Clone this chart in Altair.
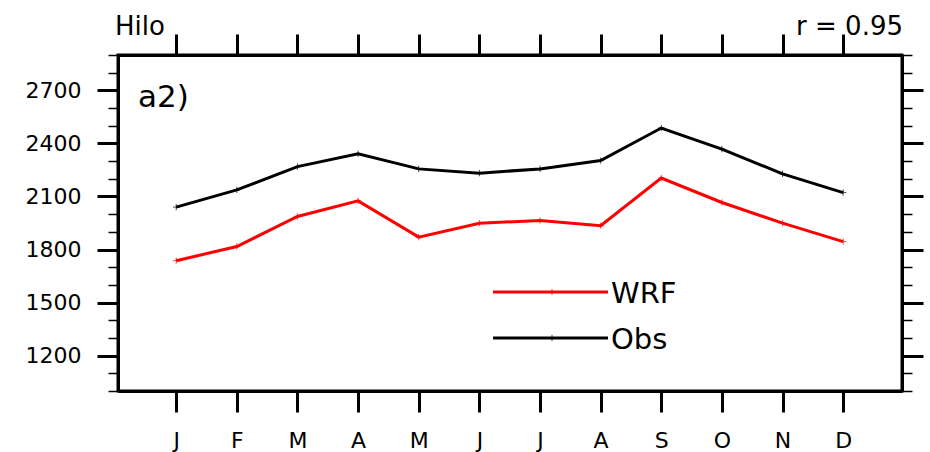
import altair as alt
import pandas as pd

# ---- data ----
months = ["J", "F", "M", "A", "M", "J", "J", "A", "S", "O", "N", "D"]
month_num = list(range(1, 13))
obs = [2040, 2137, 2269, 2341, 2256, 2232, 2256, 2303, 2487, 2368, 2228, 2122]
wrf = [1737, 1817, 1987, 2075, 1870, 1949, 1964, 1935, 2204, 2066, 1949, 1845]
series = ["WRF", "Obs"]
colors = ["#ff0000", "#000000"]
y_major = [1200, 1500, 1800, 2100, 2400, 2700]
y_ticks = list(range(1000, 2901, 100))
station = "Hilo"
panel = "a2)"
corr = "r = 0.95"

FONT = "DejaVu Sans"
W, H = 784, 336
x_scale = alt.Scale(domain=[0.04, 12.97], nice=False, zero=False)
y_scale = alt.Scale(domain=[1000, 2900], nice=False, zero=False)

df = pd.DataFrame({
    "m": month_num * 2,
    "v": wrf + obs,
    "s": [series[0]] * 12 + [series[1]] * 12,
})

month_expr = "[" + ",".join("'" + m + "'" for m in months) + "][datum.value - 1]"
major_test = "indexof([" + ",".join(str(v) for v in y_major) + "], datum.value) >= 0"

def y_axis(orient, labels):
    return alt.Axis(
        orient=orient, values=y_ticks, title=None, grid=False,
        labels=labels, format="d",
        labelExpr="(" + major_test + ") ? datum.label : ''",
        labelFont=FONT, labelFontSize=22, labelColor="black",
        labelPadding=16, labelOverlap=False, labelFlush=False,
        tickColor="black",
        tickSize={"condition": {"test": major_test, "value": 21}, "value": 10},
        tickWidth={"condition": {"test": major_test, "value": 3}, "value": 1.5},
        domainColor="black", domainWidth=3,
    )

def x_axis(orient, labels):
    return alt.Axis(
        orient=orient, values=month_num, title=None, grid=False,
        labels=labels, labelExpr=month_expr,
        labelFont=FONT, labelFontSize=22, labelColor="black",
        labelPadding=18, labelOverlap=False, labelFlush=False,
        tickColor="black", tickSize=21, tickWidth=3,
        domainColor="black", domainWidth=3,
    )

base = alt.Chart(df)

obs_line = base.transform_filter(alt.datum.s == series[1]).mark_line(
    color=colors[1], strokeWidth=3
).encode(
    x=alt.X("m:Q", scale=x_scale, axis=x_axis("bottom", True)),
    y=alt.Y("v:Q", scale=y_scale, axis=y_axis("left", True)),
)

wrf_line = base.transform_filter(alt.datum.s == series[0]).mark_line(
    color=colors[0], strokeWidth=3
).encode(
    x=alt.X("m:Q", scale=x_scale, axis=x_axis("top", False)),
    y=alt.Y("v:Q", scale=y_scale, axis=y_axis("right", False)),
)

cross = "M0,-1L0,1M-1,0L1,0"
pts = base.mark_point(shape=cross, size=40, filled=False, strokeWidth=1).encode(
    x=alt.X("m:Q", scale=x_scale, axis=None),
    y=alt.Y("v:Q", scale=y_scale, axis=None),
    color=alt.Color("s:N", scale=alt.Scale(domain=series, range=colors), legend=None),
)

def txt(t, x, y, size, align="left"):
    return alt.Chart(pd.DataFrame({"t": [t]})).mark_text(
        font=FONT, fontSize=size, align=align, baseline="alphabetic", color="black"
    ).encode(x=alt.value(x), y=alt.value(y), text="t:N")

# legend drawn by hand
leg = []
for i, (name, col) in enumerate(zip(series, colors)):
    yy = 237 + 46 * i
    leg.append(alt.Chart(pd.DataFrame({"t": [name]})).mark_rule(color=col, strokeWidth=3).encode(
        x=alt.value(375), x2=alt.value(490), y=alt.value(yy)))
    leg.append(alt.Chart(pd.DataFrame({"t": [name]})).mark_point(
        shape=cross, size=40, filled=False, strokeWidth=1, color=col).encode(
        x=alt.value(434), y=alt.value(yy)))
    leg.append(alt.Chart(pd.DataFrame({"t": [name]})).mark_text(
        font=FONT, fontSize=29, align="left", baseline="middle", color="black").encode(
        x=alt.value(493), y=alt.value(yy + 2), text="t:N"))

chart = alt.layer(
    obs_line, wrf_line, pts,
    txt(station, -3, -20.5, 26),
    txt(corr, 785, -20.5, 26, align="right"),
    txt(panel, 20, 52, 31),
    *leg,
).resolve_axis(x="independent", y="independent").properties(
    width=W, height=H,
    autosize=alt.AutoSizeParams(type="none"),
    padding={"left": 118, "top": 55, "right": 28, "bottom": 61},
    background="white",
).configure_view(stroke="black", strokeWidth=3)

chart.save("out.html", embed_options={"renderer": "svg", "actions": False})
